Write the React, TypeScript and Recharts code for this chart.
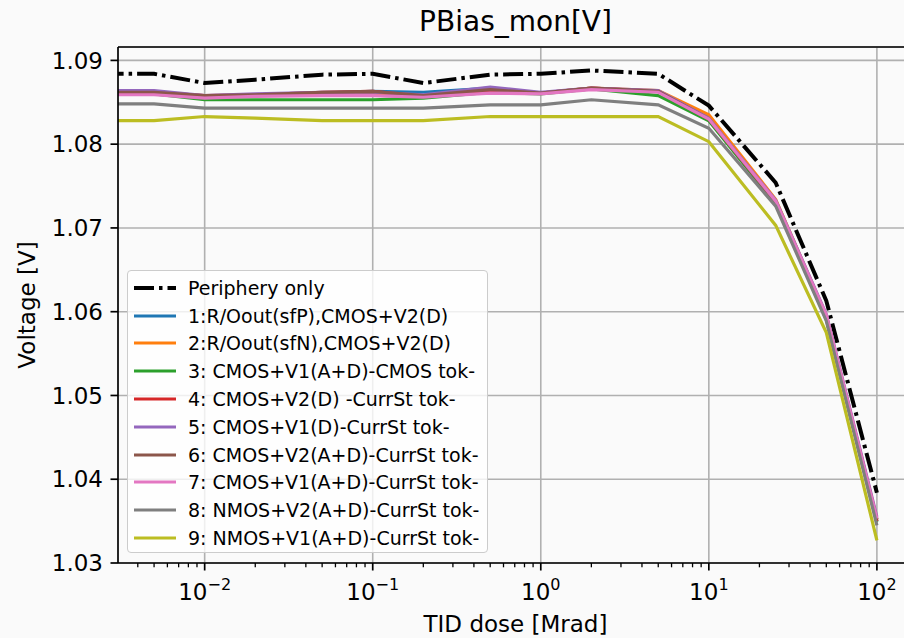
import { CartesianGrid, Customized, Legend, Line, LineChart, ReferenceLine, XAxis, YAxis } from 'recharts';

const FONT = '"DejaVu Sans", Verdana, sans-serif';

// dose 0 (before irradiation) cannot sit on a log axis, it is drawn just left of the frame
const doses = [0.001, 0.005, 0.01, 0.02, 0.05, 0.1, 0.2, 0.5, 1, 2, 5, 10, 25, 50, 100];

const periphery = [1.0884, 1.0884, 1.0873, 1.0877, 1.0883, 1.0884, 1.0873, 1.0883, 1.0884, 1.0888, 1.0884, 1.0846, 1.0754, 1.0613, 1.0384];
const s1 = [1.0862, 1.0862, 1.0857, 1.0858, 1.0861, 1.0863, 1.0862, 1.0867, 1.0861, 1.0866, 1.0863, 1.0832, 1.0731, 1.0593, 1.035];
const s2 = [1.0861, 1.0861, 1.0856, 1.0858, 1.086, 1.0861, 1.0857, 1.0864, 1.0861, 1.0867, 1.0864, 1.0835, 1.0734, 1.0595, 1.0352];
const s3 = [1.086, 1.086, 1.0853, 1.0853, 1.0853, 1.0853, 1.0855, 1.0862, 1.086, 1.0866, 1.0858, 1.0828, 1.0729, 1.0591, 1.0349];
const s4 = [1.0862, 1.0862, 1.0858, 1.0859, 1.0862, 1.0863, 1.0857, 1.0864, 1.0861, 1.0867, 1.0863, 1.083, 1.0731, 1.0593, 1.035];
const s5 = [1.0864, 1.0864, 1.0858, 1.086, 1.0862, 1.0862, 1.0859, 1.0868, 1.0862, 1.0867, 1.0864, 1.0831, 1.0733, 1.0597, 1.0355];
const s6 = [1.0862, 1.0862, 1.0858, 1.0859, 1.0862, 1.0863, 1.0858, 1.0865, 1.0861, 1.0867, 1.0863, 1.083, 1.0731, 1.0594, 1.0352];
const s7 = [1.0859, 1.0859, 1.0855, 1.0857, 1.0858, 1.0858, 1.0856, 1.0861, 1.086, 1.0865, 1.0862, 1.083, 1.0732, 1.0596, 1.0353];
const s8 = [1.0848, 1.0848, 1.0843, 1.0843, 1.0843, 1.0843, 1.0843, 1.0847, 1.0847, 1.0853, 1.0847, 1.0819, 1.0726, 1.0589, 1.0345];
const s9 = [1.0828, 1.0828, 1.0833, 1.0831, 1.0828, 1.0828, 1.0828, 1.0833, 1.0833, 1.0833, 1.0833, 1.0803, 1.0703, 1.0575, 1.0327];

const series = [
  { key: 'p', name: 'Periphery only', color: '#000000', values: periphery, dashed: true },
  { key: 's1', name: '1:R/Oout(sfP),CMOS+V2(D)', color: '#1f77b4', values: s1 },
  { key: 's2', name: '2:R/Oout(sfN),CMOS+V2(D)', color: '#ff7f0e', values: s2 },
  { key: 's3', name: '3: CMOS+V1(A+D)-CMOS tok-', color: '#2ca02c', values: s3 },
  { key: 's4', name: '4: CMOS+V2(D) -CurrSt tok-', color: '#d62728', values: s4 },
  { key: 's5', name: '5: CMOS+V1(D)-CurrSt tok-', color: '#9467bd', values: s5 },
  { key: 's6', name: '6: CMOS+V2(A+D)-CurrSt tok-', color: '#8c564b', values: s6 },
  { key: 's7', name: '7: CMOS+V1(A+D)-CurrSt tok-', color: '#e377c2', values: s7 },
  { key: 's8', name: '8: NMOS+V2(A+D)-CurrSt tok-', color: '#7f7f7f', values: s8 },
  { key: 's9', name: '9: NMOS+V1(A+D)-CurrSt tok-', color: '#bcbd22', values: s9 },
];

const xMajor = [0.01, 0.1, 1, 10, 100];
const xMinor = [0.001, 0.01, 0.1, 1, 10]
  .flatMap((d) => [2, 3, 4, 5, 6, 7, 8, 9].map((m) => +(d * m).toPrecision(3)))
  .filter((v) => v > 0.00305 && v < 164);
const yTicks = [1.03, 1.04, 1.05, 1.06, 1.07, 1.08, 1.09];

const data = doses.map((dose, i) => {
  const row: any = { dose };
  series.forEach((s) => (row[s.key] = s.values[i]));
  return row;
});

const DASH = '20 5 3.5 5';

const XTick = (props: any) => {
  const { x, y, payload } = props;
  const v = payload.value;
  const major = xMajor.includes(v);
  const exp = Math.round(Math.log10(v));
  return (
    <g>
      <line x1={x} x2={x} y1={y} y2={y + (major ? 7.5 : 4.3)} stroke="#000" strokeWidth={major ? 1.7 : 1.3} />
      {major && (
        <text x={x} y={y + 37} textAnchor="middle" fontSize={23} fontFamily={FONT} fill="#000">
          <tspan>10</tspan>
          <tspan dy={-10} fontSize={16}>{exp < 0 ? '\u2212' + -exp : String(exp)}</tspan>
        </text>
      )}
    </g>
  );
};

const LegendBox = () => (
  <div
    style={{
      boxSizing: 'border-box',
      width: 361,
      height: 283,
      background: 'rgba(255,255,255,0.8)',
      border: '1px solid #cccccc',
      borderRadius: 4,
      paddingTop: 3,
      fontFamily: FONT,
      fontSize: 19,
      color: '#000',
    }}
  >
    {series.map((s) => (
      <div key={s.key} style={{ display: 'flex', alignItems: 'center', height: 27.8 }}>
        <svg width={42} height={10} style={{ marginLeft: 6 }}>
          <line x1={0} x2={42} y1={5} y2={5} stroke={s.color} strokeWidth={s.dashed ? 4 : 3.2} strokeDasharray={s.dashed ? DASH : undefined} />
        </svg>
        <span style={{ marginLeft: 12, whiteSpace: 'nowrap' }}>{s.name}</span>
      </div>
    ))}
  </div>
);

export default function App() {
  return (
    <div style={{ position: 'relative', width: 904, height: 638, overflow: 'hidden', background: '#fafafa' }}>
      <style>{'html, body { margin: 0; padding: 0; overflow: hidden; }'}</style>
      <LineChart width={913} height={638} data={data} margin={{ top: 47, right: 0, bottom: 0, left: 0 }}>
        <CartesianGrid stroke="#b0b0b0" strokeWidth={1.6} vertical={false} />
        <XAxis
          dataKey="dose"
          type="number"
          scale="log"
          domain={[0.00305, 164]}
          allowDataOverflow
          ticks={[...xMajor, ...xMinor].sort((a, b) => a - b)}
          interval={0}
          tick={<XTick />}
          tickLine={false}
          tickSize={0}
          tickMargin={0}
          height={75}
          axisLine={{ stroke: '#000', strokeWidth: 1.7 }}
          label={{
            content: () => (
              <text x={515.5} y={632} textAnchor="middle" fontSize={23} fontFamily={FONT} fill="#000">
                TID dose [Mrad]
              </text>
            ),
          }}
        />
        <YAxis
          type="number"
          domain={[1.03, 1.0916]}
          allowDataOverflow
          ticks={yTicks}
          interval={0}
          width={118}
          tickFormatter={(v: number) => v.toFixed(2)}
          tick={{ fontSize: 23, fontFamily: FONT, fill: '#000' }}
          tickSize={7.5}
          tickMargin={7.5}
          tickLine={{ stroke: '#000', strokeWidth: 1.7 }}
          axisLine={{ stroke: '#000', strokeWidth: 1.7 }}
          label={{
            content: () => (
              <text
                x={27}
                y={305}
                transform="rotate(-90, 27, 305)"
                textAnchor="middle"
                dominantBaseline="central"
                fontSize={23}
                fontFamily={FONT}
                fill="#000"
              >
                Voltage [V]
              </text>
            ),
          }}
        />
        {xMajor.map((v) => (
          <ReferenceLine key={v} x={v} stroke="#b0b0b0" strokeWidth={1.6} />
        ))}
        <ReferenceLine y={1.0916} stroke="#000" strokeWidth={1.7} />
        {series.map((s) => (
          <Line
            key={s.key}
            dataKey={s.key}
            name={s.name}
            type="linear"
            stroke={s.color}
            strokeWidth={s.dashed ? 4 : 3.2}
            strokeDasharray={s.dashed ? DASH : undefined}
            dot={false}
            activeDot={false}
            isAnimationActive={false}
          />
        ))}
        <Legend
          layout="vertical"
          align="center"
          verticalAlign="middle"
          wrapperStyle={{ left: 127, top: 270, width: 361 }}
          content={() => <LegendBox />}
        />
        <Customized
          component={() => (
            <text x={515.5} y={31} textAnchor="middle" fontSize={28} fontFamily={FONT} fill="#000">
              PBias_mon[V]
            </text>
          )}
        />
      </LineChart>
    </div>
  );
}
